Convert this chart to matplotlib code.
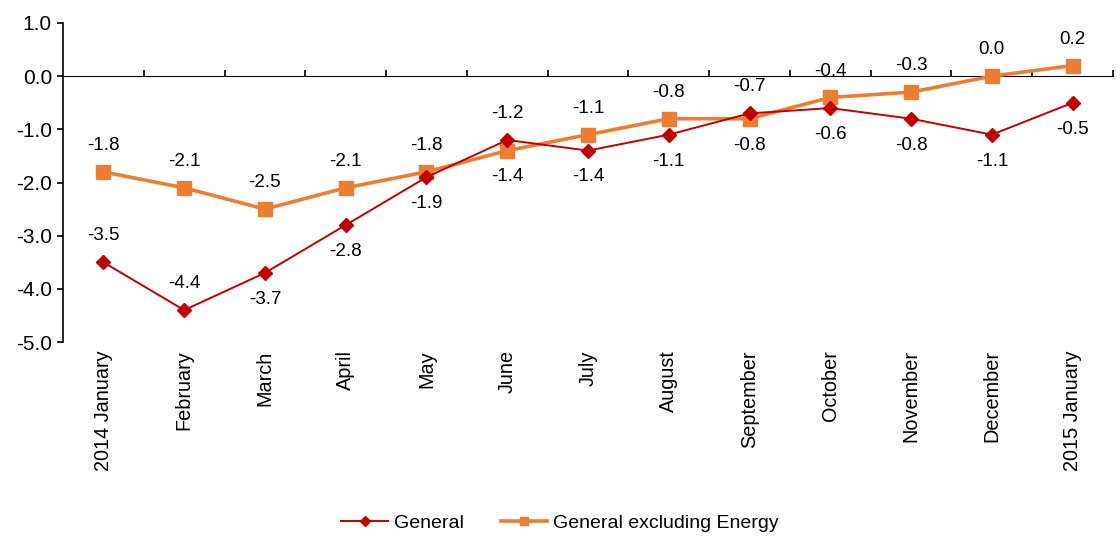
import numpy as np
import matplotlib.pyplot as plt

plt.rcParams['font.family'] = ['Liberation Sans', 'DejaVu Sans']

months = ['2014 January', 'February', 'March', 'April', 'May', 'June', 'July',
          'August', 'September', 'October', 'November', 'December', '2015 January']
general = [-3.5, -4.4, -3.7, -2.8, -1.9, -1.2, -1.4, -1.1, -0.7, -0.6, -0.8, -1.1, -0.5]
excl_energy = [-1.8, -2.1, -2.5, -2.1, -1.8, -1.4, -1.1, -0.8, -0.8, -0.4, -0.3, 0.0, 0.2]
# +1 = label above the point, -1 = below
general_side = [1, 1, -1, -1, -1, 1, -1, -1, 1, -1, -1, -1, -1]
excl_side = [1, 1, 1, 1, 1, -1, 1, 1, -1, 1, 1, 1, 1]

red = '#C00000'
orange = '#ED7D31'
ymin, ymax = -5.0, 1.0

fig = plt.figure(figsize=(11.2, 5.41), dpi=100)
ax = fig.add_axes([0.05625, 0.3678, 0.9375, 0.5897])
x = np.arange(len(months))

ax.plot(x, general, color=red, lw=1.4, marker='D', ms=7.5, label='General', zorder=3)
ax.plot(x, excl_energy, color=orange, lw=2.6, marker='s', ms=9.5,
        label='General excluding Energy', zorder=2)

for xi, v, s in zip(x, general, general_side):
    ax.annotate(f'{v:.1f}', (xi, v), xytext=(0, 19 * s), textcoords='offset points',
                ha='center', va='center', fontsize=13.5)
for xi, v, s in zip(x, excl_energy, excl_side):
    ax.annotate(f'{v:.1f}', (xi, v), xytext=(0, 19 * s), textcoords='offset points',
                ha='center', va='center', fontsize=13.5)

ax.set_xlim(-0.5, len(months) - 0.5)
ax.set_ylim(ymin, ymax)
ax.set_yticks(np.arange(ymin, ymax + 0.01, 1.0))
ax.set_yticklabels([f'{t:.1f}' for t in np.arange(ymin, ymax + 0.01, 1.0)], fontsize=15)
ax.tick_params(axis='y', direction='out', length=4, width=1.2, pad=4)

ax.set_xticks(x)
ax.set_xticklabels(months, rotation=90, fontsize=14.3)
ax.tick_params(axis='x', length=0, pad=6)

for side in ['top', 'right', 'bottom']:
    ax.spines[side].set_visible(False)
ax.spines['left'].set_linewidth(1.2)

# zero line with category separator ticks
zero_pos = (0 - ymin) / (ymax - ymin)
sec = ax.secondary_xaxis(zero_pos)
sec.set_xticks(np.arange(-0.5, len(months), 1.0)[1:])
sec.set_xticklabels([])
sec.tick_params(direction='out', length=4, width=1.2)
sec.spines['bottom'].set_linewidth(1.2)

fig.legend(loc='lower center', bbox_to_anchor=(0.5, -0.015), ncol=2, frameon=False,
           fontsize=14, handlelength=2.4, handletextpad=0.3, columnspacing=1.9,
           markerscale=0.65)

fig.savefig('out.png', dpi=100)
